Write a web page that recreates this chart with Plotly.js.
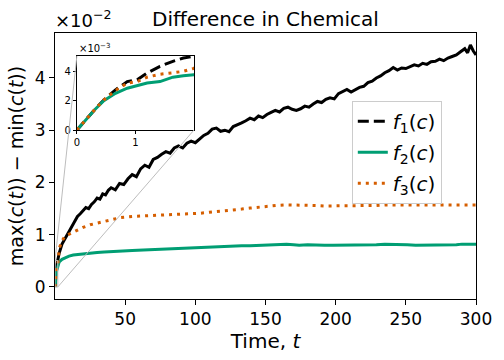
<!DOCTYPE html>
<html>
<head>
<meta charset="utf-8">
<script src="https://cdn.plot.ly/plotly-3.0.1.min.js"></script>
<style>
  body { margin: 0; background: #fff; }
  #chart { width: 504px; height: 360px; }
</style>
</head>
<body>
<div id="chart"></div>
<script>
// time samples (fine near t=0 for the inset)
const times = [0, 0.15, 0.3, 0.46, 0.66, 0.86, 1.03, 1.2, 1.42, 1.64, 1.82, 2,
  3, 5, 7, 10, 13, 16, 20, 25, 30, 35, 40, 47, 55, 63, 71, 78, 87, 95, 103, 110,
  115, 121, 127, 133, 139, 145, 151, 158, 165, 170, 174, 180, 186, 192, 198, 203,
  208, 212, 217, 223, 229, 235, 241, 246, 251, 257, 262, 268, 274, 280, 286, 290,
  293, 296, 300];

// f1 is noisier, so it is read at its own, denser times
const timesF1 = [0, 0.15, 0.3, 0.46, 0.66, 0.86, 1.03, 1.2, 1.42, 1.64, 1.82, 2,
  3, 5, 7, 10, 13, 16, 18, 20, 22, 24, 26, 28, 30, 32, 34, 36, 38, 40, 43, 46, 49,
  52, 55, 58, 61, 64, 67, 70, 73, 76, 79, 82, 85, 88, 91, 94, 97, 100, 103, 106,
  109, 112, 115, 118, 121, 124, 127, 130, 133, 136, 139, 142, 145, 148, 151, 154,
  157, 160, 163, 166, 169, 172, 175, 178, 181, 184, 187, 190, 193, 196, 199, 202,
  205, 208, 211, 214, 217, 220, 223, 226, 229, 232, 235, 238, 241, 244, 247, 250,
  253, 256, 259, 262, 265, 268, 271, 274, 277, 280, 283, 286, 289, 292, 294, 296,
  298, 300];

const f1 = [0, 0.0007, 0.00137, 0.00205, 0.00274, 0.0033, 0.00342, 0.00388, 0.00434, 0.00468, 0.0049, 0.00502,
  0.0065, 0.0082, 0.0092, 0.0105, 0.0120, 0.0135, 0.0140, 0.0146, 0.0152, 0.0150, 0.0158, 0.0163, 0.0170, 0.0168,
  0.0178, 0.0176, 0.0185, 0.0190, 0.0186, 0.0198, 0.0196, 0.0207, 0.0215, 0.0211, 0.0226, 0.0233, 0.0229, 0.0244,
  0.0248, 0.0254, 0.0259, 0.0256, 0.0266, 0.0270, 0.0266, 0.0275, 0.0279, 0.0276, 0.0284, 0.0290, 0.0294, 0.0302,
  0.0304, 0.0298, 0.0300, 0.0297, 0.0307, 0.0310, 0.0314, 0.0318, 0.0323, 0.0320, 0.0327, 0.0324, 0.0330, 0.0334,
  0.0338, 0.0335, 0.0342, 0.0344, 0.0340, 0.0338, 0.0341, 0.0346, 0.0344, 0.0350, 0.0355, 0.0353, 0.0359, 0.0362,
  0.0360, 0.0370, 0.0374, 0.0378, 0.0373, 0.0378, 0.0382, 0.0384, 0.0391, 0.0394, 0.0400, 0.0404, 0.0410, 0.0414,
  0.0420, 0.0415, 0.0419, 0.0418, 0.0422, 0.0425, 0.0423, 0.0428, 0.0426, 0.0431, 0.0432, 0.0436, 0.0433, 0.0438,
  0.0441, 0.0444, 0.0450, 0.0456, 0.0448, 0.0463, 0.0452, 0.0444];

const f2 = [0, 0.0007, 0.00137, 0.0020, 0.0025, 0.00285, 0.00305, 0.0032, 0.0033, 0.0036, 0.0037, 0.00376,
  0.0048, 0.0053, 0.0056, 0.0059, 0.0061, 0.0062, 0.0064, 0.0065, 0.0066, 0.0067, 0.0068, 0.0069, 0.0070, 0.0071,
  0.0072, 0.0073, 0.0074, 0.0075, 0.0076, 0.0077, 0.0077, 0.0078, 0.0078, 0.0079, 0.0079, 0.0080, 0.0080, 0.0081,
  0.0082, 0.0081, 0.0080, 0.0081, 0.0080, 0.0080, 0.0080, 0.0080, 0.0081, 0.0080, 0.0080, 0.0081, 0.0081, 0.0082,
  0.0082, 0.0082, 0.0081, 0.0080, 0.0080, 0.0080, 0.0081, 0.0081, 0.0081, 0.0082, 0.0082, 0.0082, 0.0082];

const f3 = [0, 0.0007, 0.00137, 0.00205, 0.0027, 0.0032, 0.0033, 0.0036, 0.0038, 0.0039, 0.0040, 0.0042,
  0.0074, 0.0088, 0.0097, 0.0101, 0.0105, 0.0109, 0.0114, 0.0119, 0.0122, 0.0125, 0.0128, 0.0133, 0.0135, 0.0136,
  0.0136, 0.0137, 0.0138, 0.0139, 0.0141, 0.0143, 0.0144, 0.0146, 0.0147, 0.0149, 0.0151, 0.0153, 0.0155, 0.0156,
  0.0157, 0.0157, 0.0157, 0.0157, 0.0156, 0.0155, 0.0155, 0.0155, 0.0156, 0.0156, 0.0156, 0.0156, 0.0156, 0.0157,
  0.0157, 0.0157, 0.0156, 0.0156, 0.0156, 0.0156, 0.0156, 0.0156, 0.0157, 0.0157, 0.0157, 0.0157, 0.0157];

const seriesNames = ["<i>f</i><sub>1</sub>(<i>c</i>)", "<i>f</i><sub>2</sub>(<i>c</i>)", "<i>f</i><sub>3</sub>(<i>c</i>)"];

const mainXTicks = [50, 100, 150, 200, 250, 300];
const mainYTicks = [0, 0.01, 0.02, 0.03, 0.04];
const mainYLabels = ["0", "1", "2", "3", "4"];
const insetXTicks = [0, 1];
const insetYTicks = [0, 0.002, 0.004];
const insetYLabels = ["0", "2", "4"];

const COLORS = ["#000000", "#009E73", "#D55E00"];
const FONT = "DejaVu Sans, sans-serif";

const mainXRange = [0, 300];
const mainYRange = [-0.0023, 0.0486];
const insetXRange = [0, 2];
const insetYRange = [0, 0.00505];
const insetXDom = [0.052, 0.330];
const insetYDom = [0.635, 0.914];

function lineStyle(i, inMain) {
  if (i === 0) return { color: COLORS[0], width: 3, dash: inMain ? "solid" : "11px,5px" };
  if (i === 1) return { color: COLORS[1], width: 3 };
  return { color: COLORS[2], width: 3, dash: "3px,5px" };
}

const xs = [timesF1, times, times];
const ys = [f1, f2, f3];
const traces = [];
// main traces
ys.forEach((y, i) => {
  traces.push({ x: xs[i], y: y, mode: "lines", type: "scatter", xaxis: "x", yaxis: "y",
    line: lineStyle(i, true), showlegend: false, hoverinfo: "skip" });
});
// inset traces (they carry the legend)
ys.forEach((y, i) => {
  traces.push({ x: xs[i], y: y, mode: "lines", type: "scatter", xaxis: "x2", yaxis: "y2",
    line: lineStyle(i, false), name: seriesNames[i], legendgroup: "g" + i, hoverinfo: "skip" });
});

// map inset corner (paper fraction) to main data coords
function mainX(f) { return mainXRange[0] + f * (mainXRange[1] - mainXRange[0]); }
function mainY(f) { return mainYRange[0] + f * (mainYRange[1] - mainYRange[0]); }

const GREY = "#bdbdbd";
const shapes = [
  { type: "rect", xref: "x", yref: "y", x0: insetXRange[0], x1: insetXRange[1],
    y0: insetYRange[0], y1: insetYRange[1], line: { color: GREY, width: 1 } },
  { type: "line", xref: "x", yref: "y", x0: insetXRange[0], y0: insetYRange[1],
    x1: mainX(insetXDom[0]), y1: mainY(insetYDom[1]), line: { color: GREY, width: 1 } },
  { type: "line", xref: "x", yref: "y", x0: insetXRange[1], y0: insetYRange[0],
    x1: mainX(insetXDom[1]), y1: mainY(insetYDom[0]), line: { color: GREY, width: 1 } },
  { type: "rect", xref: "x2 domain", yref: "y2 domain", x0: 0, x1: 1, y0: 0, y1: 1,
    fillcolor: "#ffffff", line: { width: 0 }, layer: "below" }
];

const axisBase = {
  showline: true, mirror: true, linecolor: "#000", linewidth: 1,
  ticks: "outside", ticklen: 5, tickcolor: "#000",
  showgrid: false, zeroline: false
};

const layout = {
  width: 504, height: 360,
  margin: { l: 55, r: 28, t: 33, b: 61 },
  paper_bgcolor: "#fff", plot_bgcolor: "#fff",
  font: { family: FONT, color: "#000" },
  title: { text: "Difference in Chemical", font: { size: 20 }, xref: "paper", x: 0.5,
    y: 1 - 19 / 360, yanchor: "middle" },
  xaxis: Object.assign({}, axisBase, {
    domain: [0, 1], range: mainXRange, tickvals: mainXTicks, tickfont: { size: 17 },
    title: { text: "Time, <i>t</i>", font: { size: 20 }, standoff: 3 }
  }),
  yaxis: Object.assign({}, axisBase, {
    domain: [0, 1], range: mainYRange, tickvals: mainYTicks, ticktext: mainYLabels, tickfont: { size: 17 },
    title: { text: "max(<i>c</i>(<i>t</i>)) − min(<i>c</i>(<i>t</i>))", font: { size: 19 }, standoff: 6 }
  }),
  xaxis2: Object.assign({}, axisBase, {
    domain: insetXDom, anchor: "y2", range: insetXRange, tickvals: insetXTicks,
    tickfont: { size: 10 }, ticklen: 3
  }),
  yaxis2: Object.assign({}, axisBase, {
    domain: insetYDom, anchor: "x2", range: insetYRange, tickvals: insetYTicks, ticktext: insetYLabels,
    tickfont: { size: 10 }, ticklen: 3
  }),
  legend: {
    x: 0.705, y: 0.745, xanchor: "left", yanchor: "top",
    bgcolor: "#fff", bordercolor: "#cccccc", borderwidth: 1,
    font: { size: 20 }, tracegroupgap: 2, itemwidth: 30
  },
  annotations: [
    { text: "×10<sup>−2</sup>", xref: "paper", yref: "paper", x: 0, y: 1, xanchor: "left", yanchor: "bottom",
      showarrow: false, font: { size: 18 }, xshift: -2, yshift: 0 },
    { text: "×10<sup>−3</sup>", xref: "x2 domain", yref: "y2 domain", x: 0, y: 1, xanchor: "left", yanchor: "bottom",
      showarrow: false, font: { size: 10 } }
  ],
  shapes: shapes
};

Plotly.newPlot("chart", traces, layout, { displayModeBar: false, staticPlot: true });
</script>
</body>
</html>
